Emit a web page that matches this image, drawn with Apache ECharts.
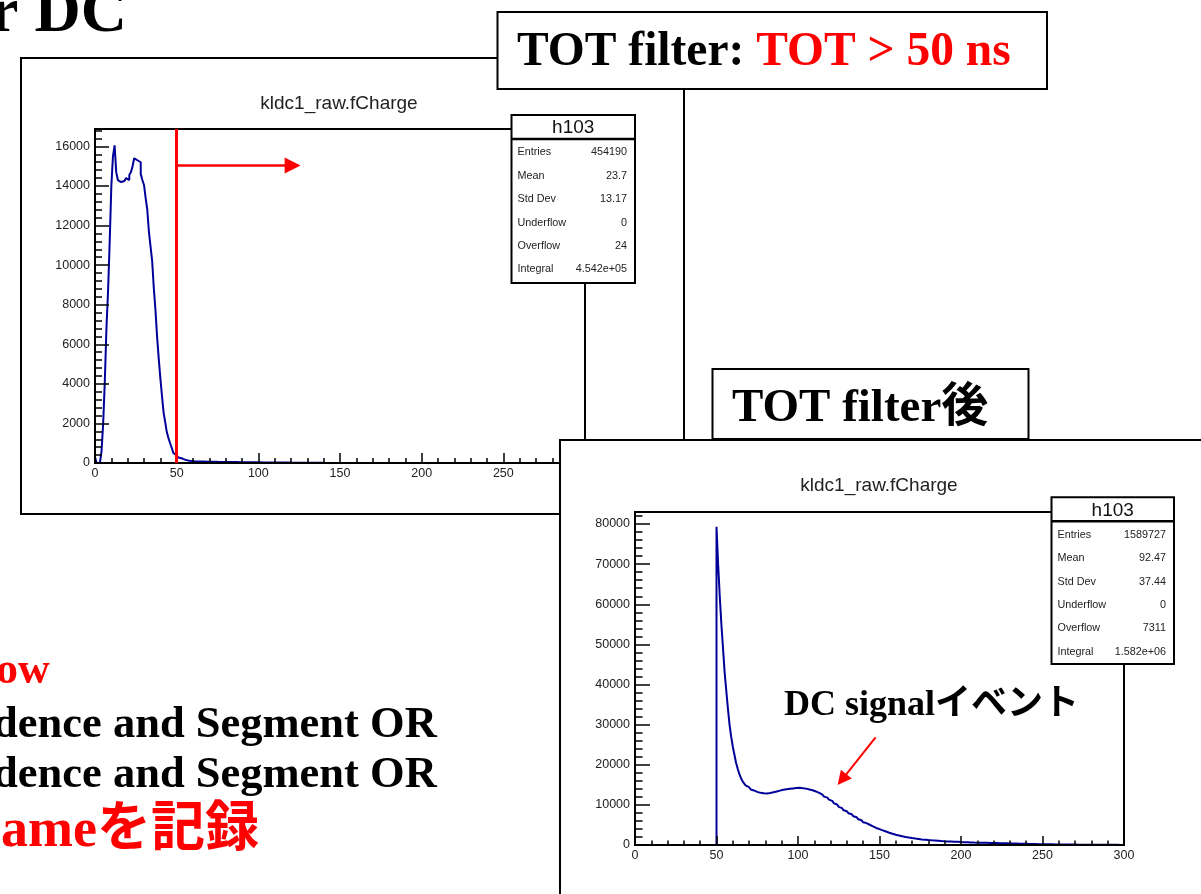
<!DOCTYPE html>
<html>
<head>
<meta charset="utf-8">
<script src="https://cdn.jsdelivr.net/npm/echarts@6/dist/echarts.min.js"></script>
<style>
  html, body { margin: 0; padding: 0; background: #fff; }
  #chart { width: 1201px; height: 894px; }
</style>
</head>
<body>
<div id="chart"></div>
<script>
// ---- data (bin width 1, range 0-300) ----
const binWidth = 1;
const xTicks = [0, 50, 100, 150, 200, 250, 300];
const hist1YTicks = [0, 2000, 4000, 6000, 8000, 10000, 12000, 14000, 16000];
const hist2YTicks = [0, 10000, 20000, 30000, 40000, 50000, 60000, 70000, 80000];

// before TOT filter
const hist1Counts = [
  300, 0, 0, 0, 600, 2000, 4100, 6800, 8700, 11200,
  14000, 15500, 16050, 14700, 14300, 14200, 14150, 14250, 14300, 14400,
  14300, 14550, 14700, 15000, 15400, 15300, 15300, 15200, 14600, 14300,
  14050, 13400, 12800, 11700, 10950, 10200, 8850, 7750, 6400, 5300,
  4300, 3400, 2550, 2050, 1550, 1250, 1000, 760, 500, 400,
  340, 280, 240, 200, 170, 150, 130, 110, 95, 90,
  85, 82, 80, 78, 76, 74, 72, 70, 68, 66,
  64, 62, 61, 60, 58, 57, 56, 55, 54, 53,
  52, 51, 50, 49, 48, 47, 46, 45, 44, 43,
  42, 41, 40, 39, 38, 37, 36, 35, 34, 33,
  32, 31, 30, 30, 29, 28, 27, 27, 26, 25,
  24, 24, 23, 22, 22, 21, 20, 20, 19, 18,
  18, 17, 16, 16, 15, 14, 14, 13, 12, 12,
  11, 11, 10, 10, 9, 9, 8, 8, 7, 7,
  6, 6, 6, 5, 5, 5, 4, 4, 4, 3,
  3, 3, 2, 2, 2, 2, 2, 1, 1, 1,
  1, 1, 1, 1, 1, 0, 0, 0, 0, 0,
  0, 0, 0, 0, 0, 0, 0, 0, 0, 0,
  0, 0, 0, 0, 0, 0, 0, 0, 0, 0,
  0, 0, 0, 0, 0, 0, 0, 0, 0, 0,
  0, 0, 0, 0, 0, 0, 0, 0, 0, 0,
  0, 0, 0, 0, 0, 0, 0, 0, 0, 0,
  0, 0, 0, 0, 0, 0, 0, 0, 0, 0,
  0, 0, 0, 0, 0, 0, 0, 0, 0, 0,
  0, 0, 0, 0, 0, 0, 0, 0, 0, 0,
  0, 0, 0, 0, 0, 0, 0, 0, 0, 0,
  0, 0, 0, 0, 0, 0, 0, 0, 0, 0,
  0, 0, 0, 0, 0, 0, 0, 0, 0, 0,
  0, 0, 0, 0, 0, 0, 0, 0, 0, 0,
  0, 0, 0, 0, 0, 0, 0, 0, 0, 0
];

// after TOT filter
const hist2Counts = [
  0, 0, 0, 0, 0, 0, 0, 0, 0, 0,
  0, 0, 0, 0, 0, 0, 0, 0, 0, 0,
  0, 0, 0, 0, 0, 0, 0, 0, 0, 0,
  0, 0, 0, 0, 0, 0, 0, 0, 0, 0,
  0, 0, 0, 0, 0, 0, 0, 0, 0, 0,
  79300, 70000, 62000, 55000, 49000, 43000, 38500, 34000, 30000, 27000,
  24500, 22500, 20500, 19000, 17700, 16700, 15900, 15300, 14800, 14400,
  14100, 13850, 13600, 13400, 13250, 13100, 13000, 12950, 12900, 12850,
  12850, 12900, 12950, 13050, 13150, 13250, 13350, 13450, 13550, 13650,
  13750, 13800, 13900, 13950, 14000, 14050, 14100, 14150, 14200, 14200,
  14250, 14200, 14150, 14100, 14050, 13950, 13850, 13750, 13650, 13500,
  13350, 13200, 13000, 12800, 12550, 12300, 12050, 11800, 11550, 11300,
  11000, 10700, 10400, 10100, 9800, 9500, 9200, 8900, 8650, 8400,
  8150, 7900, 7650, 7400, 7150, 6900, 6650, 6400, 6150, 5900,
  5650, 5450, 5250, 5050, 4850, 4650, 4450, 4250, 4100, 3950,
  3800, 3650, 3500, 3350, 3200, 3050, 2920, 2800, 2680, 2570,
  2460, 2360, 2260, 2170, 2080, 2000, 1920, 1850, 1780, 1720,
  1660, 1600, 1550, 1500, 1450, 1400, 1360, 1320, 1280, 1240,
  1200, 1170, 1140, 1110, 1080, 1050, 1020, 990, 960, 940,
  920, 900, 880, 860, 840, 820, 800, 780, 760, 740,
  720, 705, 690, 675, 660, 645, 630, 615, 600, 590,
  580, 570, 560, 550, 540, 530, 520, 510, 500, 490,
  480, 470, 460, 450, 440, 430, 420, 410, 400, 390,
  380, 370, 360, 350, 340, 330, 320, 310, 300, 290,
  280, 270, 260, 250, 240, 230, 220, 210, 200, 195,
  190, 185, 180, 175, 170, 165, 160, 155, 150, 145,
  140, 135, 130, 125, 120, 115, 110, 105, 100, 95,
  90, 85, 80, 78, 76, 74, 72, 70, 68, 66,
  64, 62, 60, 58, 56, 54, 52, 50, 48, 46,
  44, 42, 40, 38, 36, 34, 32, 30, 28, 26
];

const statLabels = ['Entries', 'Mean', 'Std Dev', 'Underflow', 'Overflow', 'Integral'];
const stats1Values = ['454190', '23.7', '13.17', '0', '24', '4.542e+05'];
const stats2Values = ['1589727', '92.47', '37.44', '0', '7311', '1.582e+06'];

const histName = 'h103';
const histTitle = 'kldc1_raw.fCharge';
const totCut = 50;          // TOT > 50 ns
const cutArrow = [[50, 15040], [121, 15040]];
const signalArrow = [[147.6, 26800], [127, 16300]];
const yMax1 = 16880;
const yMax2 = 83000;

// ---- helpers ----
const serif = '"Liberation Serif", "Times New Roman", "Noto Sans CJK JP", serif';
const sans = '"Liberation Sans", Arial, sans-serif';

function stepData(counts) {
  const d = [[0, 0]];
  counts.forEach((c, i) => d.push([i * binWidth, c]));
  d.push([counts.length * binWidth, counts[counts.length - 1]]);
  return d;
}

function axesFor(gi, yMax, yTicks, majorStep, minorStep, xTickLen, yTickLen, z) {
  const black = { color: '#000', width: 1.5 };
  const label = { fontSize: 12.5, color: '#222', fontFamily: sans };
  const xAxis = {
    type: 'value', gridIndex: gi, min: 0, max: 300, interval: 50, z: z,
    axisLine: { onZero: false, lineStyle: { color: '#000', width: 2 } },
    axisTick: { inside: true, length: xTickLen, lineStyle: black },
    minorTick: { show: true, splitNumber: 5, length: xTickLen / 2, lineStyle: black },
    axisLabel: Object.assign({ margin: 4, formatter: v => xTicks.includes(v) ? String(v) : '' }, label),
    splitLine: { show: false }
  };
  const yMajor = {
    type: 'value', gridIndex: gi, position: 'left', min: 0, max: yMax, interval: majorStep, z: z,
    axisLine: { onZero: false, lineStyle: { color: '#000', width: 2 } },
    axisTick: { inside: true, length: yTickLen, lineStyle: black },
    axisLabel: Object.assign({ margin: 5, formatter: v => yTicks.includes(v) ? String(v) : '' }, label),
    splitLine: { show: false }
  };
  const yMinor = {
    type: 'value', gridIndex: gi, position: 'left', offset: 0, min: 0, max: yMax, interval: minorStep, z: z,
    axisLine: { show: false },
    axisTick: { inside: true, length: yTickLen / 2, lineStyle: black },
    axisLabel: { show: false },
    splitLine: { show: false }
  };
  return { xAxis, yAxes: [yMajor, yMinor] };
}

function statsBox(x, y, w, h, values, z) {
  const headerH = 24;
  const els = [
    { type: 'rect', x: x, y: y, z: z, shape: { x: 0, y: 0, width: w, height: h },
      style: { fill: '#fff', stroke: '#000', lineWidth: 2 } },
    { type: 'line', x: x, y: y, z: z, shape: { x1: 0, y1: headerH, x2: w, y2: headerH },
      style: { stroke: '#000', lineWidth: 2.5 } },
    { type: 'text', x: x + w / 2, y: y + 13, z: z,
      style: { text: histName, fontSize: 19, fontFamily: sans, fill: '#111', align: 'center', verticalAlign: 'middle' } }
  ];
  statLabels.forEach((lab, i) => {
    const ry = y + 37.5 + i * 23.4;
    els.push({ type: 'text', x: x + 6, y: ry, z: z,
      style: { text: lab, fontSize: 10.8, fontFamily: sans, fill: '#222', align: 'left', verticalAlign: 'middle' } });
    els.push({ type: 'text', x: x + w - 8, y: ry, z: z,
      style: { text: values[i], fontSize: 10.8, fontFamily: sans, fill: '#222', align: 'right', verticalAlign: 'middle' } });
  });
  return els;
}

function boldText(text, x, y, size, color, z) {
  return { type: 'text', x: x, y: y, z: z,
    style: { text: text, fontSize: size, fontWeight: 'bold', fontFamily: serif, fill: color, align: 'left', verticalAlign: 'middle' } };
}

// axes sit above the histogram line, like ROOT's frame
const a1 = axesFor(0, yMax1, hist1YTicks, 2000, 400, 10, 14, 4);
const a2 = axesFor(1, yMax2, hist2YTicks, 10000, 2000, 9, 15, 13);

const chart = echarts.init(document.getElementById('chart'));

const option = {
  animation: false,
  backgroundColor: '#fff',
  grid: [
    { left: 95, top: 129, width: 490, height: 334, show: true, borderColor: '#000', borderWidth: 2, backgroundColor: '#fff', z: 2 },
    { left: 635, top: 512, width: 489, height: 333, show: true, borderColor: '#000', borderWidth: 2, backgroundColor: '#fff', z: 11 }
  ],
  xAxis: [a1.xAxis, a2.xAxis],
  yAxis: [a1.yAxes[0], a1.yAxes[1], a2.yAxes[0], a2.yAxes[1]],
  series: [
    {
      type: 'line', xAxisIndex: 0, yAxisIndex: 0, step: 'end', showSymbol: false, z: 3,
      lineStyle: { color: '#000099', width: 2 },
      data: stepData(hist1Counts),
      markLine: {
        z: 5, silent: true, animation: false, symbol: ['none', 'none'], label: { show: false },
        lineStyle: { color: '#ff0000', width: 3, type: 'solid' },
        data: [
          [{ coord: [totCut, 0] }, { coord: [totCut, yMax1] }],
          [{ coord: cutArrow[0], lineStyle: { width: 2.5 } },
           { coord: cutArrow[1], symbol: 'triangle', symbolSize: [16, 16] }]
        ]
      }
    },
    {
      type: 'line', xAxisIndex: 1, yAxisIndex: 2, step: 'end', showSymbol: false, z: 12,
      lineStyle: { color: '#000099', width: 2 },
      data: stepData(hist2Counts),
      markLine: {
        z: 15, silent: true, animation: false, symbol: ['none', 'none'], label: { show: false },
        lineStyle: { color: '#ff0000', width: 2, type: 'solid' },
        data: [
          [{ coord: signalArrow[0] }, { coord: signalArrow[1], symbol: 'triangle', symbolSize: [14, 14] }]
        ]
      }
    }
  ],
  graphic: {
    elements: [
      // slide title (cut at the left edge)
      boldText('r DC', -10, 14, 64, '#000', 1),
      // first canvas
      { type: 'rect', z: 1, shape: { x: 21, y: 58, width: 663, height: 456 },
        style: { fill: '#fff', stroke: '#000', lineWidth: 2 } },
      { type: 'text', x: 339, y: 104, z: 2,
        style: { text: histTitle, fontSize: 19, fontFamily: sans, fill: '#222', align: 'center', verticalAlign: 'middle' } },
      ...statsBox(511.5, 115, 123.5, 168, stats1Values, 6),
      // TOT filter label box
      { type: 'rect', z: 6, shape: { x: 497.5, y: 12, width: 549.5, height: 77 },
        style: { fill: '#fff', stroke: '#000', lineWidth: 2 } },
      { type: 'text', x: 517, y: 53, z: 6,
        style: {
          text: '{k|TOT filter: }{r|TOT > 50 ns}', fontFamily: serif, fontWeight: 'bold', fontSize: 47.5,
          align: 'left', verticalAlign: 'middle',
          rich: {
            k: { fill: '#000', fontSize: 47.5, fontWeight: 'bold', fontFamily: serif },
            r: { fill: '#ff0000', fontSize: 47.5, fontWeight: 'bold', fontFamily: serif }
          }
        } },
      // second canvas
      { type: 'rect', z: 10, shape: { x: 560, y: 440, width: 660, height: 470 },
        style: { fill: '#fff', stroke: '#000', lineWidth: 2 } },
      { type: 'text', x: 879, y: 486, z: 11,
        style: { text: histTitle, fontSize: 19, fontFamily: sans, fill: '#222', align: 'center', verticalAlign: 'middle' } },
      ...statsBox(1051.5, 497.3, 122.5, 166.7, stats2Values, 14),
      boldText('DC signalイベント', 784, 706, 36, '#000', 15),
      // TOT filter後 box
      { type: 'rect', z: 16, shape: { x: 712.5, y: 369, width: 316, height: 70 },
        style: { fill: '#fff', stroke: '#000', lineWidth: 2 } },
      boldText('TOT filter後', 732, 409, 47, '#000', 16),
      // slide body text (cut at the left edge)
      boldText('ow', -4, 672, 44, '#ff0000', 1),
      boldText('dence and Segment OR', -7, 725, 44.5, '#000', 1),
      boldText('dence and Segment OR', -7, 775, 44.5, '#000', 1),
      boldText('ameを記録', 1, 832, 54, '#ff0000', 1)
    ]
  }
};

chart.setOption(option);
</script>
</body>
</html>
